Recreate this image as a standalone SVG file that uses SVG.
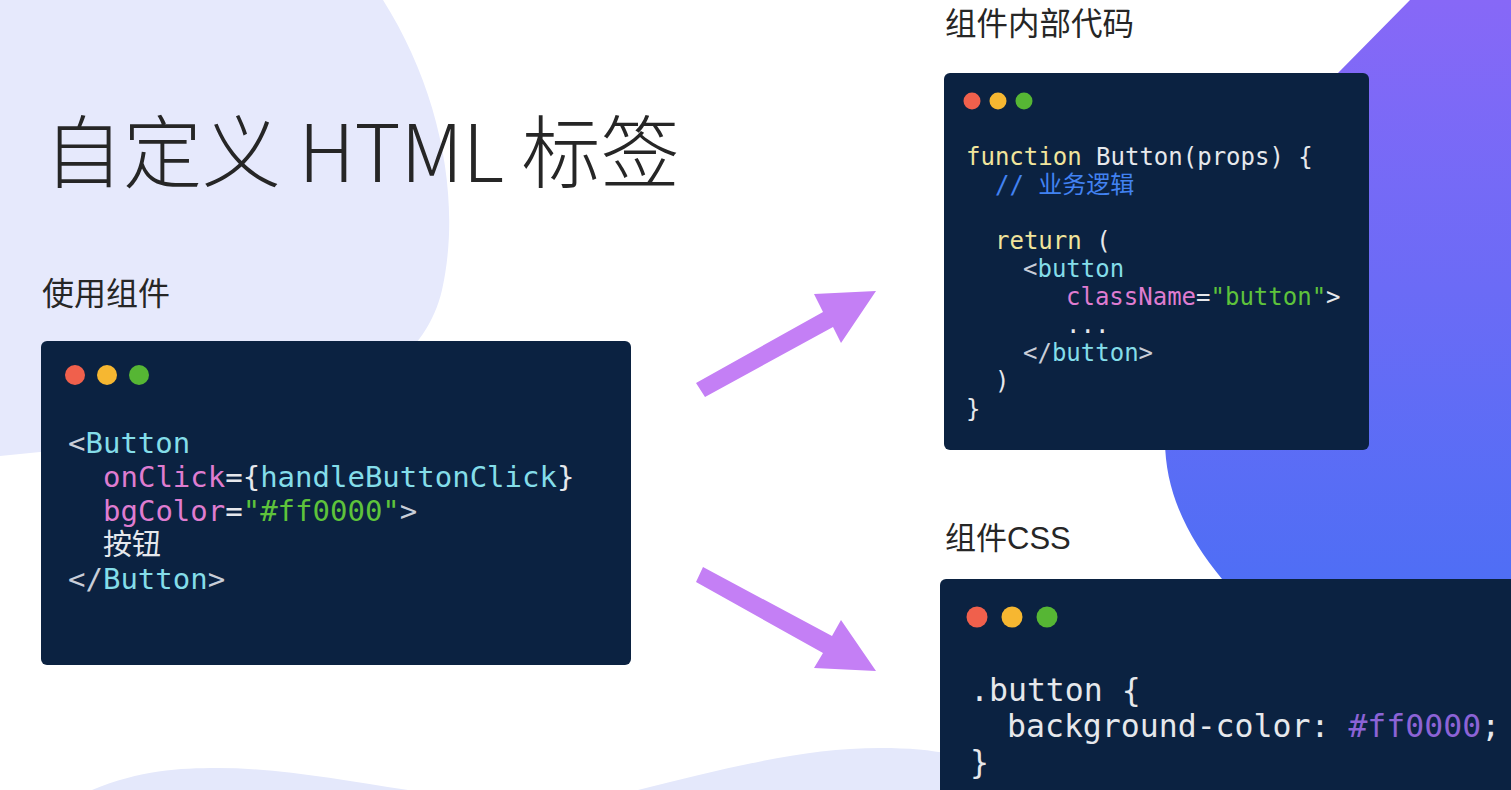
<svg xmlns="http://www.w3.org/2000/svg" width="1511" height="790" viewBox="0 0 1511 790">
<defs>
<linearGradient id="blobGrad" x1="0" y1="0" x2="0" y2="1">
<stop offset="0" stop-color="#8768f7"/>
<stop offset="1" stop-color="#4f6ef5"/>
</linearGradient>
<style>
.card{fill:#0b2241;}
.title{font-family:"Noto Sans CJK SC","Liberation Sans",sans-serif;fill:#262626;}
.lat{font-family:"Liberation Sans",sans-serif;}
.code{font-family:"DejaVu Sans Mono","Noto Sans CJK SC",monospace;fill:#e6e8ec;}
.p{fill:#c9ced8;}
.tag{fill:#84dde9;}
.attr{fill:#df7cd0;}
.str{fill:#5ec33b;}
.kw{fill:#f1e59c;}
.cm{fill:#4282f2;}
.val{fill:#8c63d6;}
.arrow{fill:#c47ff5;}
</style>
</defs>
<rect width="1511" height="790" fill="#ffffff"/>
<!-- background shapes -->
<path d="M0,0 H383 C440,90 462,200 442,290 C420,385 300,442 40,452 L0,456 Z" fill="#e6e9fc"/>
<path d="M1410,0 L1511,0 L1511,579 L1222,579 C1190,540 1165,495 1165,440 C1165,300 1250,150 1338,73 Z" fill="url(#blobGrad)"/>
<path d="M92,790 C140,770 180,768 217,768 C280,768 340,780 408,790 Z" fill="#e4e8fb"/>
<path d="M638,790 C720,770 800,748 880,748 C910,748 930,750 950,754 L950,790 Z" fill="#e4e8fb"/>

<g id="title">
<text class="title" x="44" y="182" font-size="79" font-weight="300">自定义 HTML 标签</text>
</g>

<g id="use-component">
<text class="title" x="42" y="305" font-size="32">使用组件</text>
<rect class="card" x="41" y="341" width="590" height="324" rx="6"/>
<circle cx="75" cy="375" r="10" fill="#f0604c"/>
<circle cx="107" cy="375" r="10" fill="#f6b731"/>
<circle cx="139" cy="375" r="10" fill="#56b634"/>
<g class="code" font-size="29">
<text x="68" y="453"><tspan class="p">&lt;</tspan><tspan class="tag">Button</tspan></text>
<text x="103" y="487"><tspan class="attr">onClick</tspan><tspan>={</tspan><tspan class="tag">handleButtonClick</tspan><tspan>}</tspan></text>
<text x="103" y="521"><tspan class="attr">bgColor</tspan><tspan>=</tspan><tspan class="str">"#ff0000"</tspan><tspan class="p">&gt;</tspan></text>
<text x="103" y="555">按钮</text>
<text x="68" y="589"><tspan class="p">&lt;/</tspan><tspan class="tag">Button</tspan><tspan class="p">&gt;</tspan></text>
</g>
</g>

<g id="component-code">
<text class="title" x="945" y="35" font-size="31.5">组件内部代码</text>
<rect class="card" x="944" y="73" width="425" height="377" rx="6"/>
<circle cx="972" cy="101" r="8.5" fill="#f0604c"/>
<circle cx="998" cy="101" r="8.5" fill="#f6b731"/>
<circle cx="1024" cy="101" r="8.5" fill="#56b634"/>
<g class="code" font-size="24">
<text x="966" y="165"><tspan class="kw">function</tspan> Button(props) {</text>
<text x="995" y="193" class="cm">// 业务逻辑</text>
<text x="995" y="249"><tspan class="kw">return</tspan> (</text>
<text x="1023" y="277"><tspan class="p">&lt;</tspan><tspan class="tag">button</tspan></text>
<text x="1066" y="305"><tspan class="attr">className</tspan><tspan>=</tspan><tspan class="str">"button"</tspan><tspan>&gt;</tspan></text>
<text x="1066" y="333">...</text>
<text x="1023" y="361"><tspan class="p">&lt;/</tspan><tspan class="tag">button</tspan><tspan class="p">&gt;</tspan></text>
<text x="995" y="389">)</text>
<text x="966" y="417">}</text>
</g>
</g>

<g id="component-css">
<text class="title" x="945" y="549" font-size="31">组件<tspan class="lat">CSS</tspan></text>
<rect class="card" x="940" y="579" width="580" height="230" rx="6"/>
<circle cx="977" cy="617" r="10.5" fill="#f0604c"/>
<circle cx="1012" cy="617" r="10.5" fill="#f6b731"/>
<circle cx="1047" cy="617" r="10.5" fill="#56b634"/>
<g class="code" font-size="31.5">
<text x="970" y="701">.button {</text>
<text x="1007" y="737">background-color: <tspan class="val">#ff0000</tspan>;</text>
<text x="970" y="773">}</text>
</g>
</g>

<g id="connectors">
<polygon class="arrow" points="696,383 823,312 814,294 876,291 841,343 833,327 705,397"/>
<polygon class="arrow" points="703,567 832,636 841,620 876,671 814,668 823,653 696,582"/>
</g>
</svg>
